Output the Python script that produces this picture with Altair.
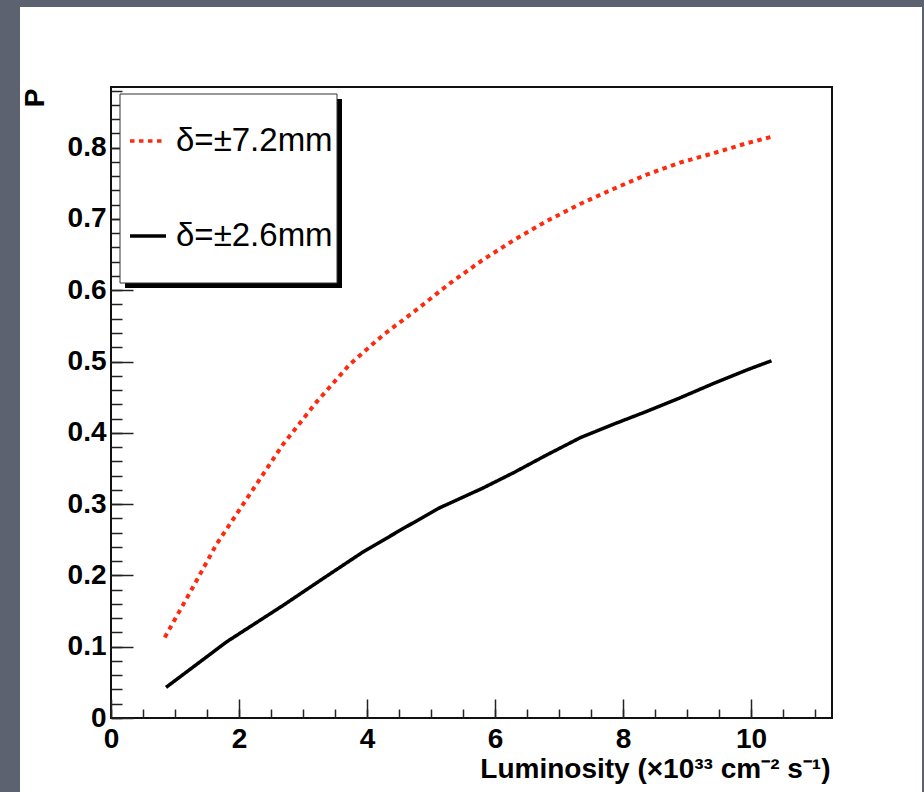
import altair as alt
import pandas as pd

# ---------------- data ----------------
series_names = ["δ=±7.2mm", "δ=±2.6mm"]
series_colors = ["#ff2a0e", "#000000"]
series_dash = [[4.5, 4.5], [1, 0]]

lum_red = [0.84, 1.29, 1.65, 2.17, 2.69, 3.21, 3.73, 4.25, 4.78, 5.30, 5.80,
           6.29, 6.81, 7.33, 7.85, 8.37, 8.89, 9.41, 9.93, 10.32]
p_red = [0.113, 0.185, 0.244, 0.314, 0.384, 0.443, 0.496, 0.537, 0.573, 0.610, 0.642,
         0.670, 0.697, 0.721, 0.742, 0.762, 0.779, 0.792, 0.806, 0.815]

lum_black = [0.86, 1.81, 2.69, 3.32, 3.94, 4.57, 5.14, 5.80, 6.29, 6.81, 7.33,
             7.85, 8.37, 8.89, 9.41, 9.93, 10.32]
p_black = [0.043, 0.107, 0.158, 0.196, 0.233, 0.266, 0.295, 0.322, 0.344, 0.369, 0.393,
           0.412, 0.430, 0.449, 0.469, 0.488, 0.501]

x_major = [0, 2, 4, 6, 8, 10]
x_minor = [i * 0.5 for i in range(23)]
y_major = [0, 0.1, 0.2, 0.3, 0.4, 0.5, 0.6, 0.7, 0.8]
y_minor = [round(i * 0.02, 2) for i in range(45)]

x_title = "Luminosity (×10³³ cm⁻² s⁻¹)"
y_title = "P"

# ---------------- layout ----------------
W, H = 721, 631
x_dom = [0, 11.266]
y_dom = [0, 0.885]
FONT = "Liberation Sans"
GRAY = "#5c6270"

df_red = pd.DataFrame({"lum": lum_red, "p": p_red, "series": series_names[0]})
df_black = pd.DataFrame({"lum": lum_black, "p": p_black, "series": series_names[1]})
dummy = pd.DataFrame({"k": [0]})

legend = alt.Legend(orient="none", legendX=17, legendY=34, title=None, padding=0,
                    labelFont=FONT, labelFontSize=33, labelColor="black", labelLimit=400,
                    labelOffset=8, symbolType="stroke", symbolSize=1296,
                    symbolStrokeWidth=3.5, rowPadding=58)

color = alt.Color("series:N", scale=alt.Scale(domain=series_names, range=series_colors), legend=legend)
dash = alt.StrokeDash("series:N", scale=alt.Scale(domain=series_names, range=series_dash), legend=legend)

ax_common = dict(domain=False, grid=False, tickColor="#222", tickWidth=1.5,
                 labelFont=FONT, labelFontSize=28, labelFontWeight="bold",
                 labelColor="black", labelOverlap=False, labelFlush=False)

y_major_axis = alt.Axis(orient="left", offset=-22, tickSize=22, values=y_major, format="~g",
                        labelPadding=5, title=y_title, titleX=-90, titleY=1, titleAngle=270,
                        titleAlign="right", titleBaseline="alphabetic", titleFont=FONT,
                        titleFontSize=28, titleFontWeight="bold", titleColor="black", **ax_common)
y_minor_axis = alt.Axis(orient="left", offset=-11, tickSize=11, values=y_minor, labels=False,
                        title=None, **ax_common)
x_major_axis = alt.Axis(orient="bottom", offset=-19, tickSize=19, values=x_major, format="d",
                        labelPadding=7, title=x_title, titleX=719, titleY=78, titleAlign="right",
                        titleBaseline="alphabetic", titleFont=FONT, titleFontSize=28,
                        titleFontWeight="bold", titleColor="black", **ax_common)
x_minor_axis = alt.Axis(orient="bottom", offset=-9, tickSize=9, values=x_minor, labels=False,
                        title=None, **ax_common)

xs = alt.Scale(domain=x_dom, nice=False, zero=False)
ys = alt.Scale(domain=y_dom, nice=False, zero=False)

red = alt.Chart(df_red).mark_line(strokeWidth=4, strokeCap="butt").encode(
    x=alt.X("lum:Q", scale=xs, axis=x_major_axis),
    y=alt.Y("p:Q", scale=ys, axis=y_major_axis),
    color=color, strokeDash=dash)

black = alt.Chart(df_black).mark_line(strokeWidth=3.5, strokeCap="butt").encode(
    x=alt.X("lum:Q", scale=xs, axis=x_minor_axis),
    y=alt.Y("p:Q", scale=ys, axis=y_minor_axis),
    color=color, strokeDash=dash)

# slide background strips (decorative)
strip_left = alt.Chart(dummy).mark_rect(color=GRAY).encode(
    x=alt.value(-111), x2=alt.value(-91), y=alt.value(-87), y2=alt.value(705))
strip_top = alt.Chart(dummy).mark_rect(color=GRAY).encode(
    x=alt.value(-111), x2=alt.value(813), y=alt.value(-87), y2=alt.value(-80))
strip_right = alt.Chart(dummy).mark_rect(color=GRAY).encode(
    x=alt.value(811), x2=alt.value(813), y=alt.value(-87), y2=alt.value(705))

# legend frame with shadow (decorative)
shadow = alt.Chart(dummy).mark_rect(color="black").encode(
    x=alt.value(14), x2=alt.value(231), y=alt.value(12), y2=alt.value(201))
box = alt.Chart(dummy).mark_rect(fill="white", stroke="#333", strokeWidth=1).encode(
    x=alt.value(9), x2=alt.value(226), y=alt.value(7), y2=alt.value(196))

chart = alt.layer(strip_left, strip_top, strip_right, red, black, shadow, box).resolve_axis(
    x="independent", y="independent"
).properties(
    width=W, height=H,
    padding={"left": 111, "top": 87, "right": 92, "bottom": 74},
    autosize=alt.AutoSizeParams(type="none"),
    background="white",
).configure_view(stroke="#111", strokeWidth=2)

chart.save("out.html", embed_options={"renderer": "svg", "actions": False})
